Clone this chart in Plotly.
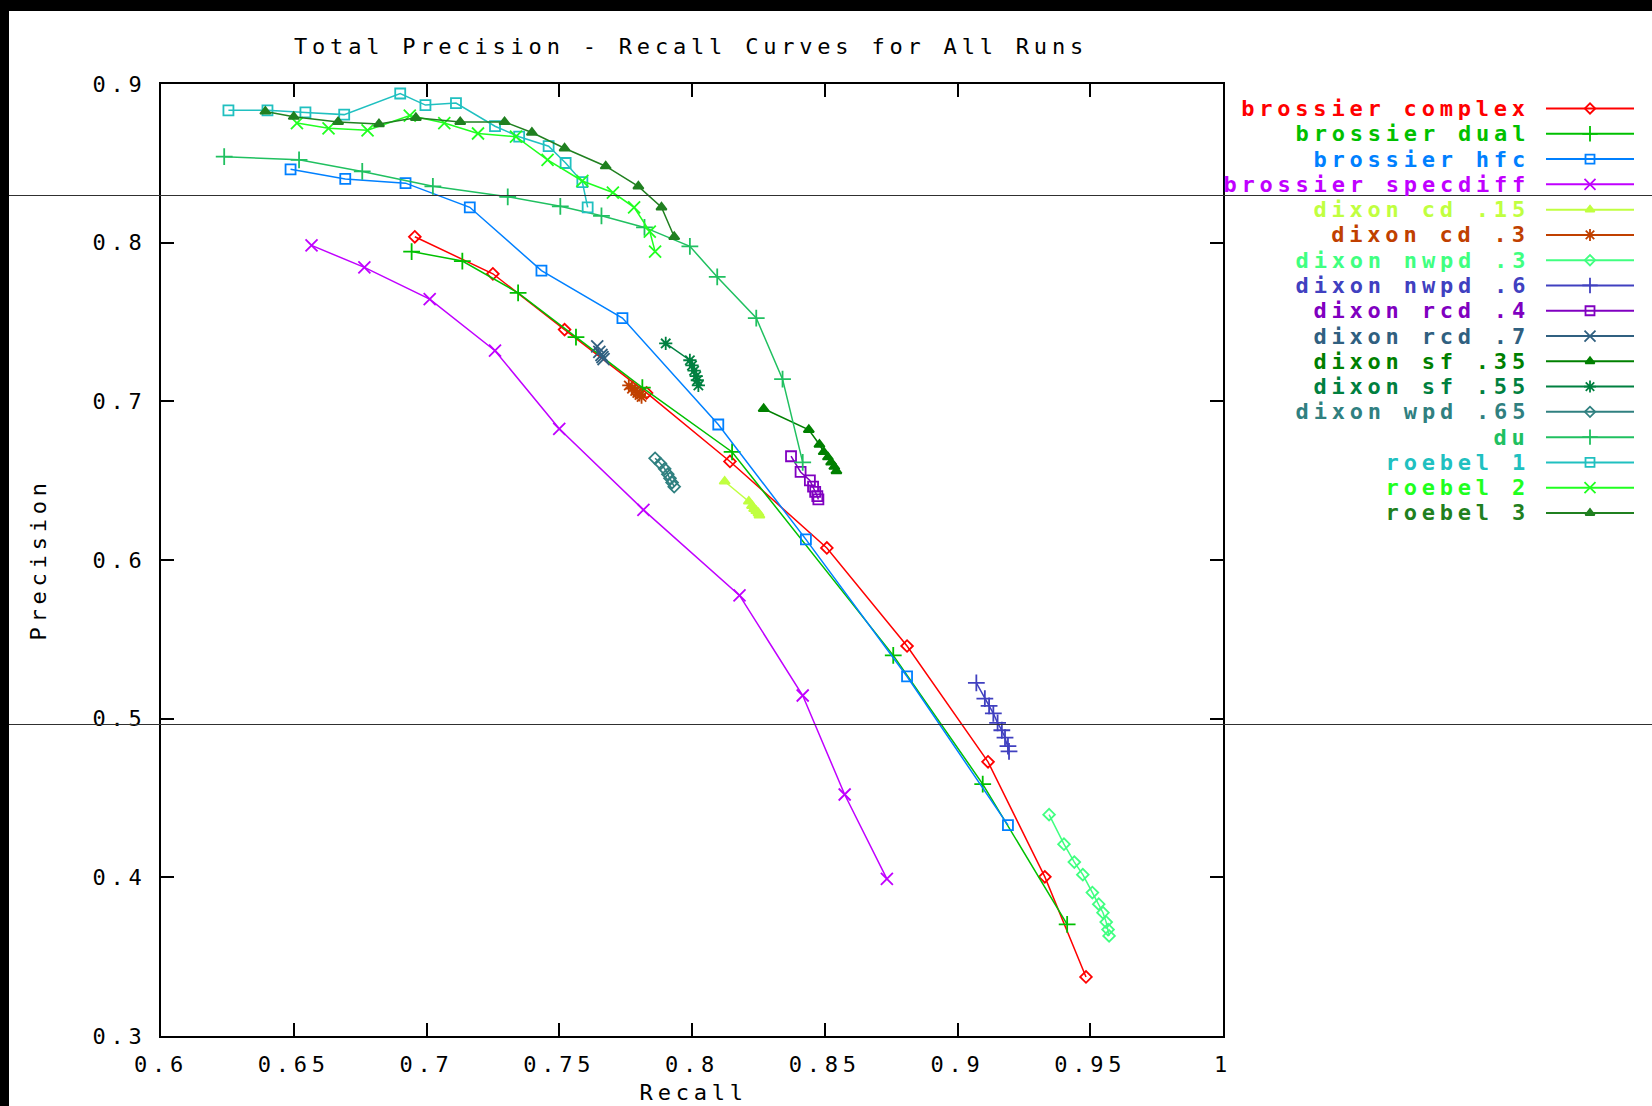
import plotly.graph_objects as go

W, H = 1652, 1106
FONT = "DejaVu Sans Mono"

# ---------------- data ----------------
names = ["brossier complex", "brossier dual", "brossier hfc", "brossier specdiff",
         "dixon cd .15", "dixon cd .3", "dixon nwpd .3", "dixon nwpd .6",
         "dixon rcd .4", "dixon rcd .7", "dixon sf .35", "dixon sf .55",
         "dixon wpd .65", "du", "roebel 1", "roebel 2", "roebel 3"]

colors = ["#ff0000", "#00c000", "#0080ff", "#c000ff",
          "#c0ff40", "#c04000", "#40ff80", "#4040c0",
          "#8000c0", "#306080", "#008000", "#008040",
          "#308080", "#20c060", "#20c0c0", "#20ff20", "#208020"]

brossier_complex_x = [0.6956, 0.7250, 0.7520, 0.7829, 0.8143, 0.8508, 0.8810, 0.9115, 0.9329, 0.9484]
brossier_complex_y = [0.8037, 0.7804, 0.7452, 0.7053, 0.6621, 0.6076, 0.5458, 0.4728, 0.4003, 0.3372]

brossier_dual_x = [0.6944, 0.7135, 0.7345, 0.7563, 0.7813, 0.8151, 0.8758, 0.9095, 0.9413]
brossier_dual_y = [0.7944, 0.7884, 0.7684, 0.7405, 0.7086, 0.6681, 0.5399, 0.4588, 0.3704]

brossier_hfc_x = [0.6488, 0.6694, 0.6921, 0.7163, 0.7433, 0.7738, 0.8099, 0.8429, 0.8810, 0.9190]
brossier_hfc_y = [0.8462, 0.8402, 0.8375, 0.8223, 0.7824, 0.7525, 0.6854, 0.6130, 0.5266, 0.4329]

brossier_specdiff_x = [0.6567, 0.6766, 0.7012, 0.7258, 0.7500, 0.7817, 0.8179, 0.8417, 0.8575, 0.8734]
brossier_specdiff_y = [0.7983, 0.7844, 0.7644, 0.7319, 0.6827, 0.6316, 0.5777, 0.5146, 0.4522, 0.3990]

dixon_cd15_x = [0.8123, 0.8214, 0.8226, 0.8234, 0.8242, 0.8250, 0.8254]
dixon_cd15_y = [0.6495, 0.6369, 0.6342, 0.6322, 0.6309, 0.6296, 0.6282]

dixon_cd3_x = [0.7762, 0.7774, 0.7786, 0.7794, 0.7802, 0.7810]
dixon_cd3_y = [0.7100, 0.7080, 0.7066, 0.7053, 0.7040, 0.7027]

dixon_nwpd3_x = [0.9345, 0.9401, 0.9440, 0.9472, 0.9508, 0.9532, 0.9548, 0.9560, 0.9567, 0.9571]
dixon_nwpd3_y = [0.4395, 0.4209, 0.4096, 0.4017, 0.3904, 0.3831, 0.3777, 0.3718, 0.3671, 0.3631]

dixon_nwpd6_x = [0.9071, 0.9103, 0.9119, 0.9135, 0.9151, 0.9167, 0.9179, 0.9190, 0.9194]
dixon_nwpd6_y = [0.5226, 0.5126, 0.5080, 0.5033, 0.4973, 0.4927, 0.4880, 0.4827, 0.4794]

dixon_rcd4_x = [0.8373, 0.8409, 0.8444, 0.8456, 0.8464, 0.8472, 0.8476]
dixon_rcd4_y = [0.6654, 0.6555, 0.6502, 0.6462, 0.6429, 0.6402, 0.6382]

dixon_rcd7_x = [0.7643, 0.7651, 0.7659, 0.7663, 0.7667]
dixon_rcd7_y = [0.7346, 0.7312, 0.7292, 0.7279, 0.7266]

dixon_sf35_x = [0.8270, 0.8440, 0.8480, 0.8496, 0.8512, 0.8524, 0.8536, 0.8544]
dixon_sf35_y = [0.6953, 0.6821, 0.6728, 0.6681, 0.6648, 0.6615, 0.6588, 0.6561]

dixon_sf55_x = [0.7901, 0.7992, 0.8000, 0.8008, 0.8016, 0.8020, 0.8024]
dixon_sf55_y = [0.7365, 0.7259, 0.7226, 0.7193, 0.7159, 0.7133, 0.7100]

dixon_wpd65_x = [0.7861, 0.7881, 0.7897, 0.7909, 0.7917, 0.7925, 0.7933]
dixon_wpd65_y = [0.6641, 0.6608, 0.6575, 0.6541, 0.6515, 0.6488, 0.6462]

du_x = [0.6238, 0.6520, 0.6758, 0.7024, 0.7306, 0.7504, 0.7659, 0.7821, 0.7992, 0.8095, 0.8242, 0.8341, 0.8417]
du_y = [0.8542, 0.8522, 0.8449, 0.8355, 0.8289, 0.8229, 0.8169, 0.8096, 0.7977, 0.7784, 0.7525, 0.7140, 0.6615]

roebel1_x = [0.6254, 0.6401, 0.6544, 0.6690, 0.6901, 0.6996, 0.7111, 0.7258, 0.7349, 0.7460, 0.7524, 0.7587, 0.7607]
roebel1_y = [0.8834, 0.8834, 0.8821, 0.8807, 0.8940, 0.8867, 0.8880, 0.8734, 0.8668, 0.8608, 0.8502, 0.8382, 0.8223]

roebel2_x = [0.6512, 0.6631, 0.6778, 0.6937, 0.7067, 0.7194, 0.7337, 0.7456, 0.7587, 0.7702, 0.7782, 0.7841, 0.7861]
roebel2_y = [0.8754, 0.8721, 0.8708, 0.8801, 0.8754, 0.8688, 0.8668, 0.8522, 0.8389, 0.8316, 0.8223, 0.8070, 0.7944]

roebel3_x = [0.6393, 0.6500, 0.6667, 0.6821, 0.6960, 0.7127, 0.7294, 0.7397, 0.7520, 0.7675, 0.7798, 0.7885, 0.7933]
roebel3_y = [0.8827, 0.8794, 0.8761, 0.8748, 0.8787, 0.8761, 0.8761, 0.8694, 0.8595, 0.8482, 0.8355, 0.8223, 0.8037]

x_tickvals = [0.6, 0.65, 0.7, 0.75, 0.8, 0.85, 0.9, 0.95, 1.0]
x_ticktext = ["0.6", "0.65", "0.7", "0.75", "0.8", "0.85", "0.9", "0.95", "1"]
y_tickvals = [0.3, 0.4, 0.5, 0.6, 0.7, 0.8, 0.9]
y_ticktext = ["0.3", "0.4", "0.5", "0.6", "0.7", "0.8", "0.9"]

title_text = "Total Precision - Recall Curves for All Runs"
x_title = "Recall"
y_title = "Precision"

series = [
    (brossier_complex_x, brossier_complex_y), (brossier_dual_x, brossier_dual_y),
    (brossier_hfc_x, brossier_hfc_y), (brossier_specdiff_x, brossier_specdiff_y),
    (dixon_cd15_x, dixon_cd15_y), (dixon_cd3_x, dixon_cd3_y),
    (dixon_nwpd3_x, dixon_nwpd3_y), (dixon_nwpd6_x, dixon_nwpd6_y),
    (dixon_rcd4_x, dixon_rcd4_y), (dixon_rcd7_x, dixon_rcd7_y),
    (dixon_sf35_x, dixon_sf35_y), (dixon_sf55_x, dixon_sf55_y),
    (dixon_wpd65_x, dixon_wpd65_y), (du_x, du_y),
    (roebel1_x, roebel1_y), (roebel2_x, roebel2_y), (roebel3_x, roebel3_y),
]

# gnuplot point-type cycle
sym_cycle = ["diamond-open", "cross-thin-open", "square-open", "x-thin-open", "triangle-up", "asterisk-open"]
size_cycle = [9, 12, 10, 12, 9, 11]

fig = go.Figure()

for i, (xs, ys) in enumerate(series):
    k = i % 6
    fig.add_trace(go.Scatter(
        x=xs, y=ys, mode="lines+markers", name=names[i],
        line=dict(color=colors[i], width=1.5),
        marker=dict(symbol=sym_cycle[k], size=size_cycle[k], color=colors[i],
                    line=dict(color=colors[i], width=1.8)),
        xaxis="x", yaxis="y", showlegend=False,
    ))

# custom gnuplot-style key: text right-aligned, sample to the right
annotations = []
for i, nm in enumerate(names):
    k = i % 6
    fig.add_trace(go.Scatter(
        x=[0, 1], y=[i, i], mode="lines", line=dict(color=colors[i], width=2),
        xaxis="x2", yaxis="y2", showlegend=False, hoverinfo="skip"))
    fig.add_trace(go.Scatter(
        x=[0.5], y=[i], mode="markers",
        marker=dict(symbol=sym_cycle[k], size=size_cycle[k] - 1, color=colors[i],
                    line=dict(color=colors[i], width=1.8)),
        xaxis="x2", yaxis="y2", showlegend=False, hoverinfo="skip"))
    annotations.append(dict(
        text=nm, xref="paper", yref="y2", x=1532 / W, y=i,
        xanchor="right", yanchor="middle", align="right", showarrow=False,
        font=dict(family=FONT, size=22, color=colors[i], weight="bold")))

annotations.append(dict(text=y_title, xref="paper", yref="paper", x=38 / W, y=1 - 560 / H,
                        textangle=-90, showarrow=False, xanchor="center", yanchor="middle",
                        font=dict(family=FONT, size=22, color="black")))
annotations.append(dict(text=x_title, xref="paper", yref="paper", x=693 / W, y=1 - 1092 / H,
                        showarrow=False, xanchor="center", yanchor="middle",
                        font=dict(family=FONT, size=22, color="black")))

axis_common = dict(showgrid=False, zeroline=False, showline=True, linewidth=2, linecolor="black",
                   mirror="ticks", ticks="inside", ticklen=13, tickwidth=1.5, tickcolor="black",
                   tickfont=dict(family=FONT, size=22, color="black"), automargin=False)

shapes = [
    dict(type="rect", xref="paper", yref="paper", x0=0, x1=1, y0=1 - 11 / H, y1=1,
         fillcolor="black", line=dict(width=0), layer="above"),
    dict(type="rect", xref="paper", yref="paper", x0=0, x1=9 / W, y0=0, y1=1,
         fillcolor="black", line=dict(width=0), layer="above"),
    dict(type="line", xref="paper", yref="paper", x0=9 / W, x1=1, y0=1 - 195.5 / H, y1=1 - 195.5 / H,
         line=dict(color="#303030", width=1), layer="above"),
    dict(type="line", xref="paper", yref="paper", x0=9 / W, x1=1, y0=1 - 724.5 / H, y1=1 - 724.5 / H,
         line=dict(color="#303030", width=1), layer="above"),
]

fig.update_layout(
    width=W, height=H, margin=dict(l=0, r=0, t=0, b=0, pad=0),
    paper_bgcolor="white", plot_bgcolor="white", showlegend=False,
    title=dict(text=title_text, x=691 / W, y=1 - 46 / H, xref="container", yref="container",
               xanchor="center", yanchor="middle", font=dict(family=FONT, size=22, color="black")),
    xaxis=dict(domain=[161 / W, 1223 / W], range=[0.6, 1.0], tickvals=x_tickvals, ticktext=x_ticktext,
               ticklabelstandoff=8, anchor="y", **axis_common),
    yaxis=dict(domain=[1 - 1036 / H, 1 - 84 / H], range=[0.3, 0.9], tickvals=y_tickvals, ticktext=y_ticktext,
               ticklabelstandoff=8, anchor="x", **axis_common),
    xaxis2=dict(domain=[1546 / W, 1634 / W], range=[0, 1], visible=False, anchor="y2", fixedrange=True),
    yaxis2=dict(domain=[1 - 525.64 / H, 1 - 95.86 / H], range=[16.5, -0.5], visible=False, anchor="x2",
                fixedrange=True),
    annotations=annotations, shapes=shapes,
)

post = ("var gd = document.getElementById('{plot_id}');"
        "if (gd) { gd.querySelectorAll('text').forEach(function(t){"
        "t.style.letterSpacing='4.8px';}); }")
fig.write_html("out.html", post_script=post)
